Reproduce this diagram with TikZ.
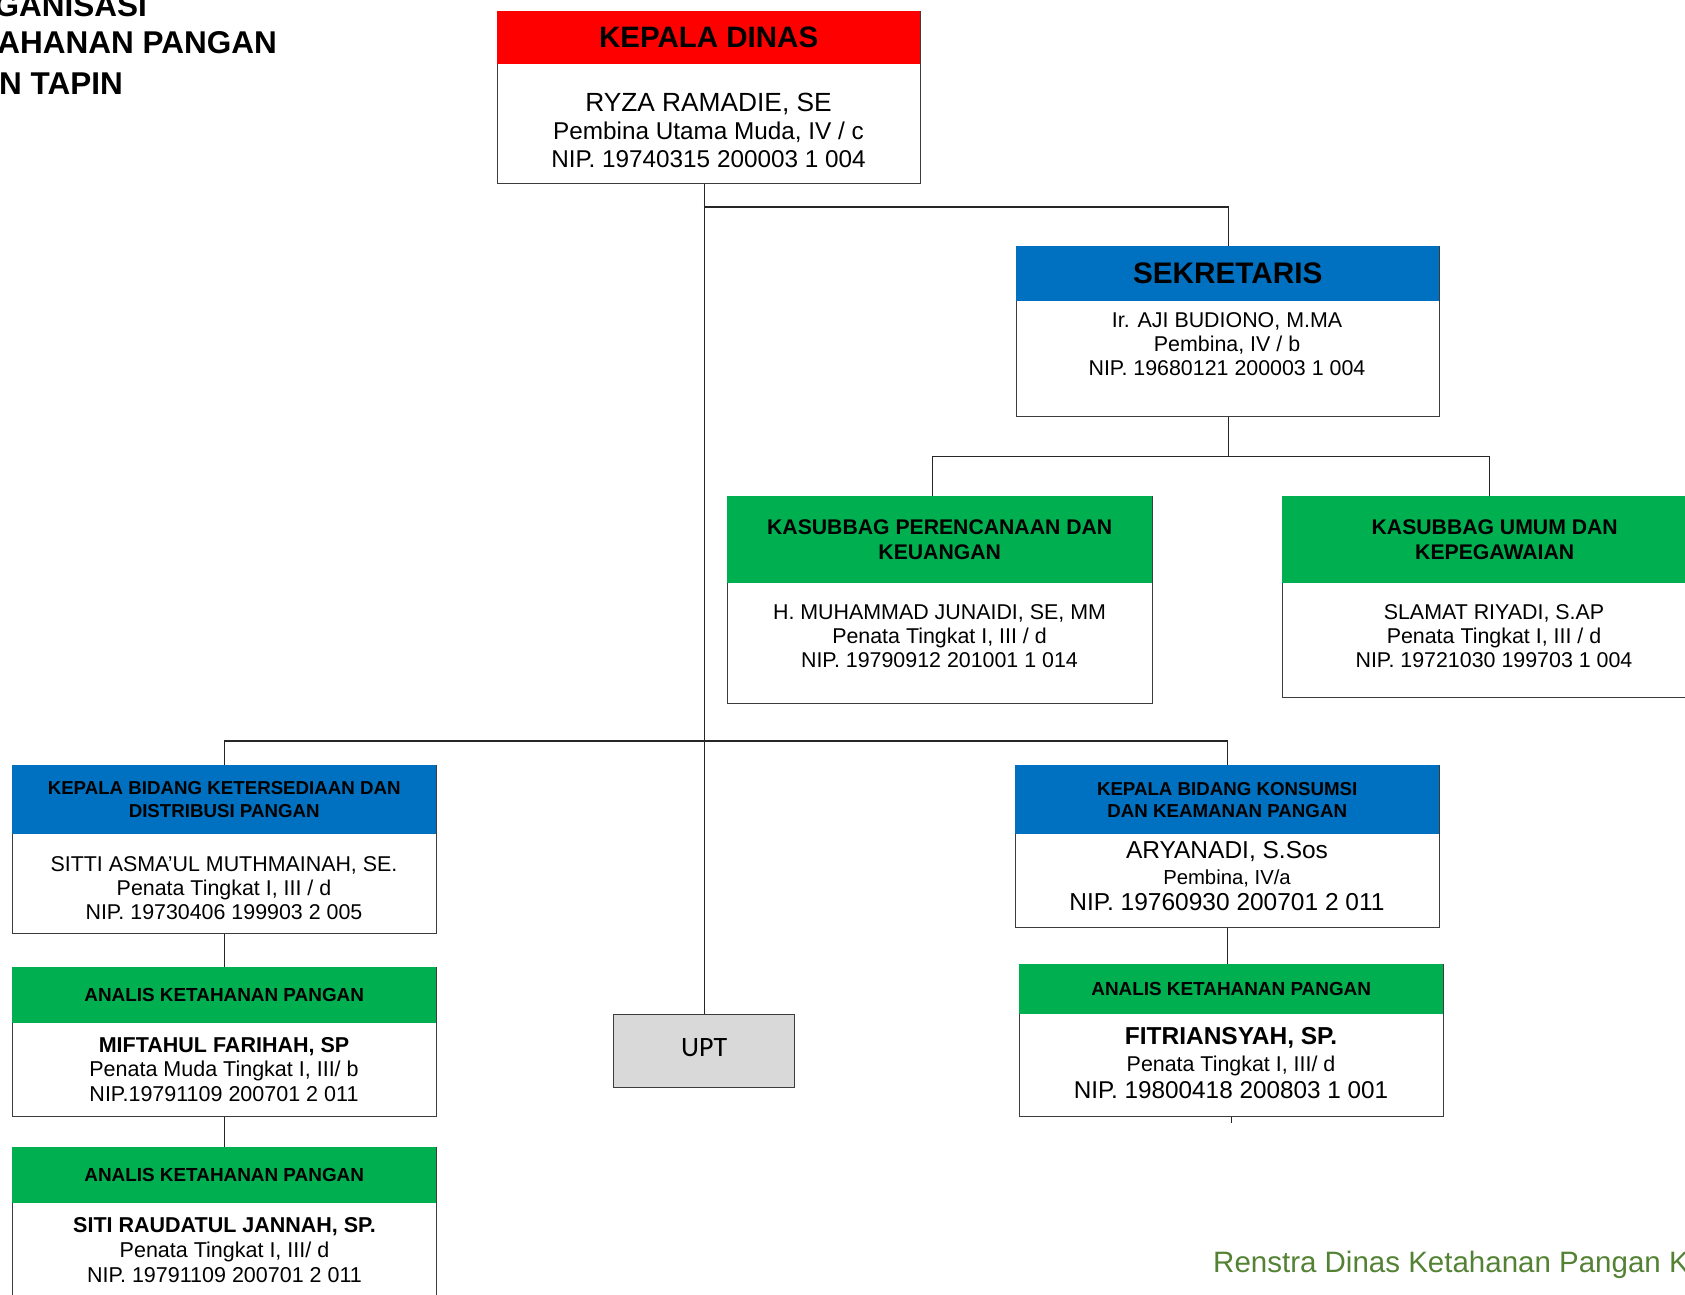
\documentclass[tikz,border=0pt]{standalone}
\usepackage{fontspec}
\setmainfont{Liberation Sans}
\newfontfamily\uptfont{Carlito}
\usepackage{tikz}
\usepackage{xcolor}
\usetikzlibrary{positioning, calc}
\definecolor{headred}{RGB}{255, 0, 0}
\definecolor{headblue}{RGB}{0, 112, 192}
\definecolor{headgreen}{RGB}{0, 176, 80}
\definecolor{uptgray}{RGB}{217, 217, 217}
\definecolor{footgreen}{RGB}{84, 130, 53}
\definecolor{edgegray}{RGB}{60, 60, 60}
\newcommand{\fs}[2]{\fontsize{#1}{#2}\selectfont}

\begin{document}
\begin{tikzpicture}[x=1pt, y=-1pt,
    unitbox/.style={draw=edgegray, line width=1.3pt, fill=white, inner sep=0pt, anchor=north west},
    headbar/.style={fill=#1, inner sep=0pt, anchor=north west, align=center},
    bodytext/.style={align=center, inner sep=0pt},
    link/.style={line width=1.3pt, draw=black!85}]
    \useasboundingbox (0,0) rectangle (1685,1294);
    \clip (0,0) rectangle (1685,1294);

    % Title (cut off at the left edge)
    \node[anchor=base east, inner sep=0pt, font=\fs{31.5}{38}\bfseries] (title1) at (147,16) {GANISASI};
    \node[anchor=base east, inner sep=0pt, font=\fs{31.5}{38}\bfseries] (title2) at (277,53) {AHANAN PANGAN};
    \node[anchor=base east, inner sep=0pt, font=\fs{31.5}{38}\bfseries] (title3) at (123,94) {N TAPIN};

    % Kepala Dinas
    \node[unitbox, minimum width=423pt, minimum height=172pt] (kadis) at (497,11) {};
    \node[headbar=headred, minimum width=423pt, minimum height=53pt, font=\fs{29.5}{34}\bfseries] (kadis-head) at (497,11) {KEPALA DINAS};
    \node[bodytext, font=\fs{24.3}{28}] (kadis-body) at (708.5,130) {{\fs{26.3}{28}RYZA RAMADIE, SE}\\Pembina Utama Muda, IV / c\\NIP. 19740315 200003 1 004};

    % Sekretaris
    \node[unitbox, minimum width=423pt, minimum height=170pt] (sek) at (1016,246) {};
    \node[headbar=headblue, minimum width=423pt, minimum height=55pt, font=\fs{29.7}{34}\bfseries] (sek-head) at (1016,246) {SEKRETARIS};
    \node[bodytext, font=\fs{21.4}{24}] (sek-body) at (1227,344) {Ir. AJI BUDIONO, M.MA\\Pembina, IV / b\\NIP. 19680121 200003 1 004};

    % Kasubbag
    \node[unitbox, minimum width=425pt, minimum height=207pt] (ren) at (727,496) {};
    \node[headbar=headgreen, minimum width=425pt, minimum height=87pt, font=\fs{21.2}{25}\bfseries] (ren-head) at (727,496) {KASUBBAG PERENCANAAN DAN\\KEUANGAN};
    \node[bodytext, font=\fs{21.4}{24}] (ren-body) at (939.5,636) {H. MUHAMMAD JUNAIDI, SE, MM\\Penata Tingkat I, III / d\\NIP. 19790912 201001 1 014};

    \node[unitbox, minimum width=425pt, minimum height=201pt] (umum) at (1282,496) {};
    \node[headbar=headgreen, minimum width=425pt, minimum height=87pt, font=\fs{21.2}{25}\bfseries] (umum-head) at (1282,496) {KASUBBAG UMUM DAN\\KEPEGAWAIAN};
    \node[bodytext, font=\fs{21.4}{24}] (umum-body) at (1494,636) {SLAMAT RIYADI, S.AP\\Penata Tingkat I, III / d\\NIP. 19721030 199703 1 004};

    % Kepala Bidang
    \node[unitbox, minimum width=424pt, minimum height=168pt] (ters) at (12,765) {};
    \node[headbar=headblue, minimum width=424pt, minimum height=69pt, font=\fs{18.7}{23}\bfseries] (ters-head) at (12,765) {KEPALA BIDANG KETERSEDIAAN DAN\\DISTRIBUSI PANGAN};
    \node[bodytext, font=\fs{21.4}{24}] (ters-body) at (224,888) {SITTI ASMA’UL MUTHMAINAH, SE.\\Penata Tingkat I, III / d\\NIP. 19730406 199903 2 005};

    \node[unitbox, minimum width=424pt, minimum height=162pt] (kons) at (1015,765) {};
    \node[headbar=headblue, minimum width=424pt, minimum height=69pt, font=\fs{18.7}{22}\bfseries] (kons-head) at (1015,765) {KEPALA BIDANG KONSUMSI\\DAN KEAMANAN PANGAN};
    \node[bodytext, font=\fs{21}{26}] (kons-body) at (1227,876) {{\fs{24.5}{26}ARYANADI, S.Sos}\\{\fs{20.3}{24}Pembina, IV/a}\\{\fs{24.5}{26}NIP. 19760930 200701 2 011}};

    % Analis
    \node[unitbox, minimum width=424pt, minimum height=149pt] (ana1) at (12,967) {};
    \node[headbar=headgreen, minimum width=424pt, minimum height=56pt, font=\fs{18.9}{23}\bfseries] (ana1-head) at (12,967) {ANALIS KETAHANAN PANGAN};
    \node[bodytext, font=\fs{21.5}{24.5}] (ana1-body) at (224,1069.5) {{\bfseries MIFTAHUL FARIHAH, SP}\\Penata Muda Tingkat I, III/ b\\NIP.19791109 200701 2 011};

    \node[unitbox, minimum width=424pt, minimum height=200pt] (ana2) at (12,1147) {};
    \node[headbar=headgreen, minimum width=424pt, minimum height=56pt, font=\fs{18.9}{23}\bfseries] (ana2-head) at (12,1147) {ANALIS KETAHANAN PANGAN};
    \node[bodytext, font=\fs{21.5}{25}] (ana2-body) at (224.5,1250) {{\bfseries SITI RAUDATUL JANNAH, SP.}\\Penata Tingkat I, III/ d\\NIP. 19791109 200701 2 011};

    \node[unitbox, minimum width=424pt, minimum height=152pt] (ana3) at (1019,964) {};
    \node[headbar=headgreen, minimum width=424pt, minimum height=50pt, font=\fs{18.9}{23}\bfseries] (ana3-head) at (1019,964) {ANALIS KETAHANAN PANGAN};
    \node[bodytext, font=\fs{21}{27}] (ana3-body) at (1231,1063) {{\fs{24.5}{27}\bfseries FITRIANSYAH, SP.}\\{\fs{21.4}{25}Penata Tingkat I, III/ d}\\{\fs{24.3}{27}NIP. 19800418 200803 1 001}};

    % UPT
    \node[draw=edgegray, line width=1.3pt, fill=uptgray, anchor=north west, minimum width=181pt, minimum height=73pt, inner sep=0pt, font=\uptfont\fs{28}{32}] (upt) at (613,1014) {\raisebox{8pt}{UPT}};

    % Connectors
    \coordinate (j1) at (703.5,207);
    \coordinate (j3) at (703.5,741);
    \draw[link] (kadis.south -| upt.north) -- (upt.north);
    \draw[link] (j1) -| (sek.north);
    \draw[link] (sek.south) -- ++(0,39) coordinate (j2);
    \draw[link] ([xshift=-8pt]ren.north) |- (j2) -| ([xshift=-6pt]umum.north);
    \draw[link] (ters.north) |- (j3) -| (kons.north);
    \draw[link] (ters.south) -- (ana1.north);
    \draw[link] (ana1.south) -- (ana2.north);
    \draw[link] (kons.south) -- (kons.south |- ana3.north);
    \draw[link] (ana3.south) -- ++(0,6);

    % Footer
    \node[anchor=west, inner sep=0pt, text=footgreen, font=\fs{29.5}{34}] (footer) at (1213,1265) {Renstra Dinas Ketahanan Pangan Ka};
\end{tikzpicture}
\end{document}
